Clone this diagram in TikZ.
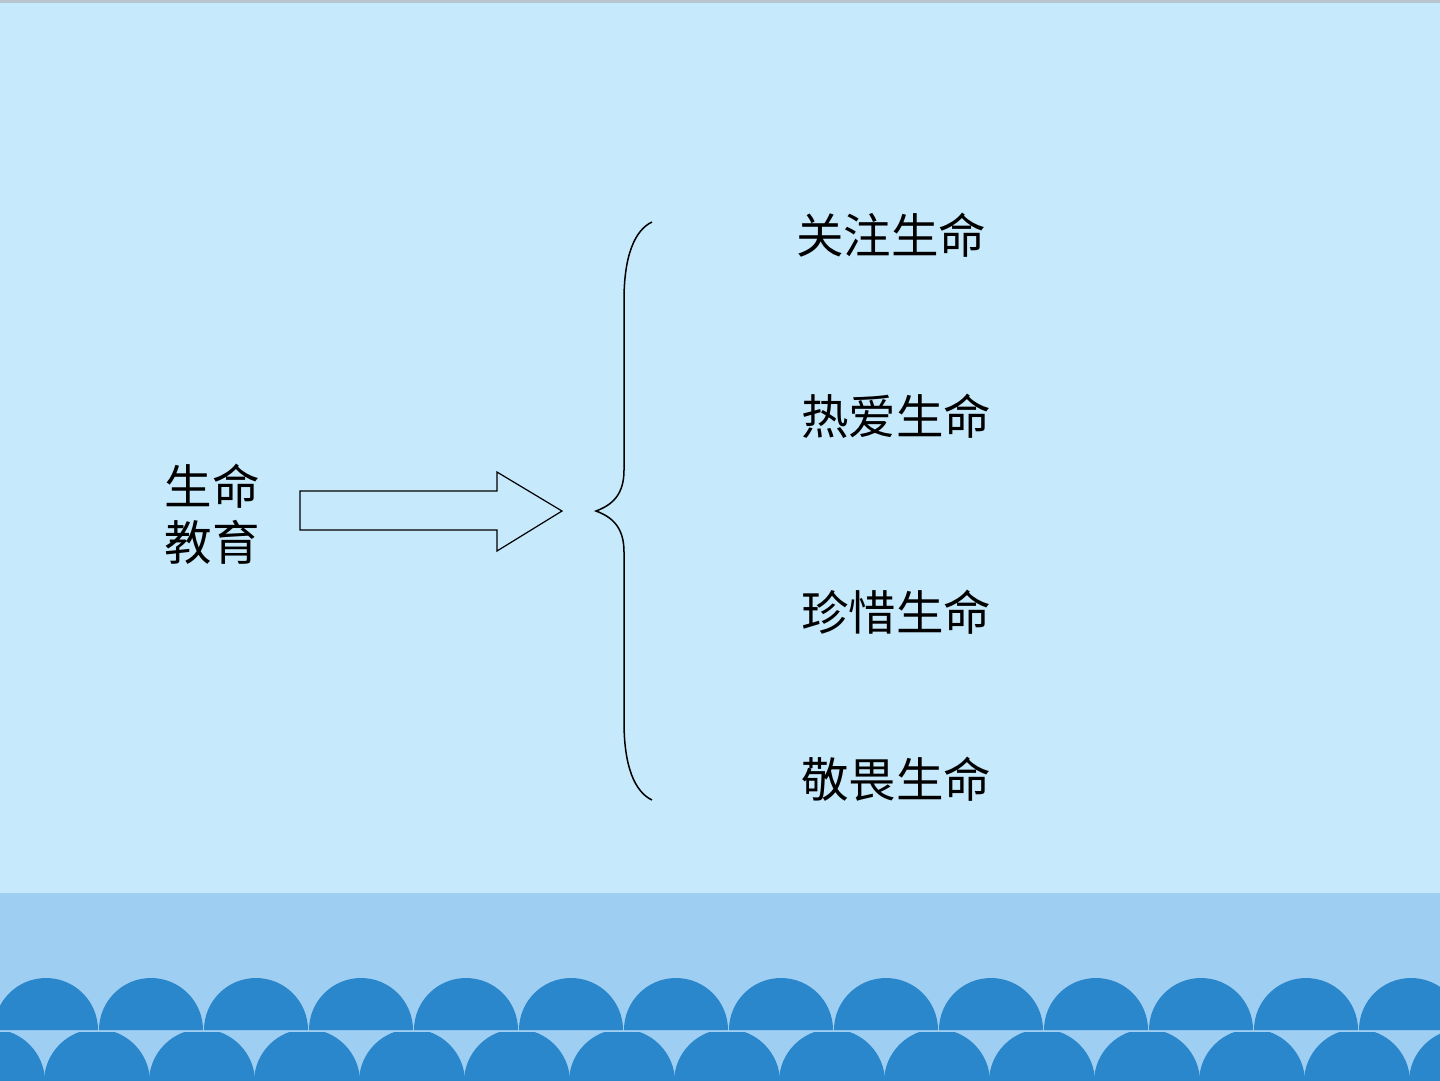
\documentclass[tikz,border=0pt]{standalone}
\usepackage{fontspec}
\newfontfamily\cjk{Noto Sans CJK SC}
\definecolor{bgblue}{HTML}{C6E9FB}
\definecolor{bandblue}{HTML}{9ECEF1}
\definecolor{scaleblue}{HTML}{2A87CB}
\definecolor{topline}{HTML}{B9C5CE}
\begin{document}
\begin{tikzpicture}[x=1pt,y=-1pt,
  lbl/.style={inner sep=0pt,font=\cjk\fontsize{47.5}{56}\selectfont,text height=0.88em,text depth=0.12em,anchor=center},
  outline/.style={draw=black,line width=1.3pt}]
\useasboundingbox (0,0) rectangle (1440,1080);
\fill[bgblue] (0,0) rectangle (1440,1080);
\fill[topline] (0,0) rectangle (1440,2.5);
% lower band
\fill[bandblue] (0,893) rectangle (1440,1080);
% top row of scales (upper half discs)
\foreach \k in {0,...,13}{
  \fill[scaleblue] ({46+105*\k-52},1030) arc[start angle=180,end angle=360,radius=52] -- cycle;
}
% bottom row of scales
\begin{scope}
\clip (0,1032) rectangle (1440,1080);
\foreach \k in {0,...,14}{
  \fill[scaleblue] ({-8+105*\k},1082) circle[radius=53];
}
\end{scope}
% left label
\node[lbl] (edu1) at (212,501) {生命};
\node[lbl] (edu2) at (212,557) {教育};
% block arrow
\draw[outline,line width=1.2pt,fill=bgblue,line join=miter]
  (300,491) -- (497,491) -- (497,472) -- (562,511) -- (497,551) -- (497,530) -- (300,530) -- cycle;
% brace
\draw[outline,line width=1.5pt]
  (652,222) .. controls (635,230) and (624,255) .. (624,300) -- (624,470)
  .. controls (624,495) and (612,505) .. (596,511)
  .. controls (612,517) and (624,527) .. (624,552) -- (624,722)
  .. controls (624,767) and (635,792) .. (652,800);
% right labels
\node[lbl] (a) at (891,250) {关注生命};
\node[lbl] (b) at (896,431) {热爱生命};
\node[lbl] (c) at (896,627) {珍惜生命};
\node[lbl] (d) at (896,794) {敬畏生命};
\end{tikzpicture}
\end{document}
